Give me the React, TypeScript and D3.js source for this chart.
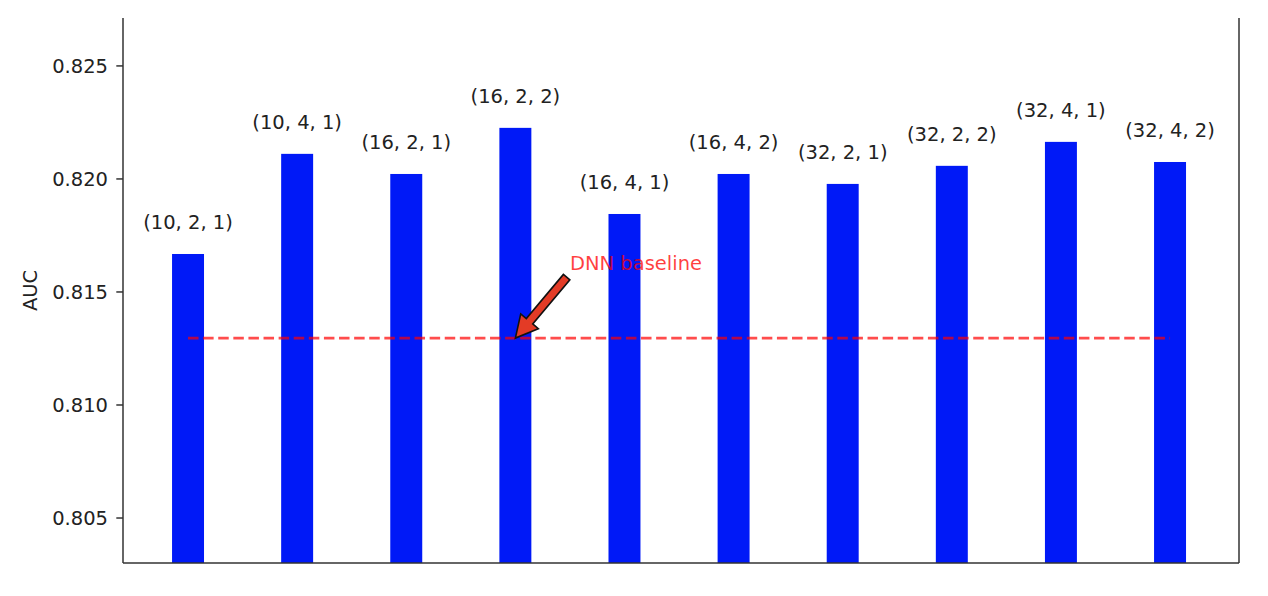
import React from "react";
import * as d3 from "d3";

const categories = ["(10, 2, 1)", "(10, 4, 1)", "(16, 2, 1)", "(16, 2, 2)", "(16, 4, 1)", "(16, 4, 2)", "(32, 2, 1)", "(32, 2, 2)", "(32, 4, 1)", "(32, 4, 2)"];
const aucValues = [0.81668, 0.82111, 0.82022, 0.82226, 0.81845, 0.82022, 0.81978, 0.82058, 0.82164, 0.82075];
const baselineValue = 0.81296;
const yTicks = [0.805, 0.81, 0.815, 0.82, 0.825];
const annotationText = "DNN baseline";
const annotationIndex = 3;

const W = 1268;
const H = 596;
const left = 123;
const right = 1239;
const top = 18;
const bottom = 563;
const FONT = "'DejaVu Sans', Verdana, sans-serif";
const FS = 19.5;

export default function App() {
  const x = d3.scaleLinear().domain([-0.596, 9.632]).range([left, right]);
  const y = d3.scaleLinear().domain([0.80301, 0.82712]).range([bottom, top]);
  const unit = x(1) - x(0);
  const bw = 0.293 * unit;

  // annotation arrow geometry
  const tip: [number, number] = [x(annotationIndex), y(baselineValue)];
  const tail: [number, number] = [x(annotationIndex) + 0.47 * unit, y(baselineValue) - 61];
  const dx = tip[0] - tail[0];
  const dy = tip[1] - tail[1];
  const len = Math.hypot(dx, dy);
  const ux = dx / len, uy = dy / len;
  const px = -uy, py = ux;
  const shaftW = 4.2, headW = 11.5, headL = 22;
  const hb: [number, number] = [tip[0] - ux * headL, tip[1] - uy * headL];
  const pts: [number, number][] = [
    [tail[0] + px * shaftW, tail[1] + py * shaftW],
    [hb[0] + px * shaftW, hb[1] + py * shaftW],
    [hb[0] + px * headW, hb[1] + py * headW],
    tip,
    [hb[0] - px * headW, hb[1] - py * headW],
    [hb[0] - px * shaftW, hb[1] - py * shaftW],
    [tail[0] - px * shaftW, tail[1] - py * shaftW],
  ];
  const arrowPath = d3.line()(pts) + "Z";

  return (
    <svg width={W} height={H} style={{ display: "block", position: "absolute", left: 0, top: 0 }} fontFamily={FONT}>
      <rect width={W} height={H} fill="#fff" />
      {aucValues.map((v, i) => (
        <rect key={i} x={x(i) - bw / 2} y={y(v)} width={bw} height={bottom - y(v)} fill="#0019f7" />
      ))}
      {aucValues.map((v, i) => (
        <text key={"l" + i} x={x(i)} y={y(v) - 25} textAnchor="middle" fontSize={FS} fill="#222">
          {categories[i]}
        </text>
      ))}
      <line x1={x(0)} x2={x(9)} y1={y(baselineValue)} y2={y(baselineValue)} stroke="red" strokeOpacity={0.7} strokeWidth={2.9} strokeDasharray="10.5 4.6" />
      <path d={arrowPath} fill="#e33b26" stroke="#111" strokeWidth={1.6} strokeLinejoin="miter" />
      <text x={x(annotationIndex) + 0.5 * unit} y={270} fontSize={FS} fill="red" fillOpacity={0.75}>
        {annotationText}
      </text>
      {/* spines */}
      <line x1={left} x2={left} y1={top} y2={bottom} stroke="#333" strokeWidth={1.5} />
      <line x1={right} x2={right} y1={top} y2={bottom} stroke="#333" strokeWidth={1.5} />
      <line x1={left} x2={right} y1={bottom} y2={bottom} stroke="#333" strokeWidth={1.5} />
      {yTicks.map((t) => (
        <g key={t}>
          <line x1={left - 6.7} x2={left} y1={y(t)} y2={y(t)} stroke="#333" strokeWidth={1.5} />
          <text x={left - 15} y={y(t)} dy="0.36em" textAnchor="end" fontSize={FS} fill="#222">
            {d3.format(".3f")(t)}
          </text>
        </g>
      ))}
      <text transform={`translate(37, ${(top + bottom) / 2}) rotate(-90)`} textAnchor="middle" fontSize={FS} fill="#222">
        AUC
      </text>
    </svg>
  );
}
